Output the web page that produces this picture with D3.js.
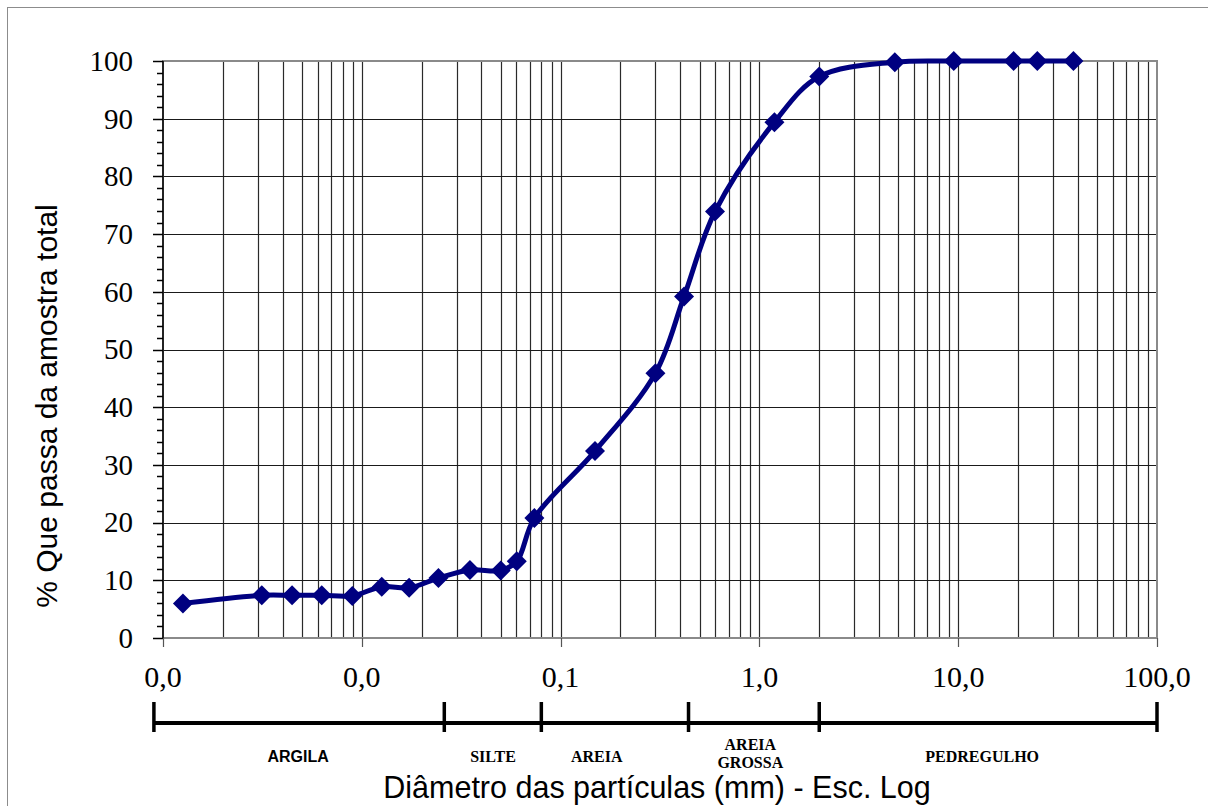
<!DOCTYPE html>
<html>
<head>
<meta charset="utf-8">
<script src="https://cdn.jsdelivr.net/npm/d3@7/dist/d3.min.js"></script>
<style>
  body { margin: 0; background: #fff; }
  svg { display: block; }
</style>
</head>
<body>
<div id="chart"></div>
<script>
// grain size curve (diameter in mm, % passing)
var diameters = [0.00126, 0.00314, 0.00446, 0.00629, 0.00896, 0.0126, 0.0173, 0.0243, 0.035, 0.05, 0.0602, 0.0738,
                 0.149, 0.3, 0.418, 0.598, 1.19, 2.0, 4.8, 9.5, 19, 25, 38];
var passing   = [6.0, 7.4, 7.4, 7.4, 7.3, 8.9, 8.7, 10.4, 11.8, 11.7, 13.3, 20.8,
                 32.4, 45.9, 59.2, 73.9, 89.4, 97.3, 99.8, 100, 100, 100, 100];

var xTicks = [0.001, 0.01, 0.1, 1, 10, 100];
var yTicks = [0, 10, 20, 30, 40, 50, 60, 70, 80, 90, 100];

// soil classes along the bottom bar
var classLimits = [0.0009, 0.026, 0.08, 0.44, 2.0, 100];
var classNames  = [["ARGILA"], ["SILTE"], ["AREIA"], ["AREIA", "GROSSA"], ["PEDREGULHO"]];
var classCenter = [0.00478, 0.0457, 0.152, 0.9, 13.2];

var W = 1208, H = 806,
    pLeft = 163, pRight = 1157, pTop = 61, pBottom = 638;

var x = d3.scaleLog().domain([0.001, 100]).range([pLeft, pRight]),
    y = d3.scaleLinear().domain([0, 100]).range([pBottom, pTop]);

var svg = d3.select("#chart").append("svg")
    .attr("width", W)
    .attr("height", H);

svg.append("rect")
  .attr("width", W).attr("height", H)
  .style("fill", "#fff");

/* outer frame */
svg.append("rect")
  .attr("x", 7.5).attr("y", 7.5)
  .attr("width", W + 20).attr("height", H + 20)
  .style("fill", "none")
  .style("stroke", "#8c8c8c")
  .style("stroke-width", 1);

/* vertical grid: every 1..9 of each decade */
var minor = [];
for (var k = -3; k <= 1; k++)
  for (var m = 1; m <= 9; m++)
    minor.push(m * Math.pow(10, k));

svg.selectAll(".vgrid")
  .data(minor.filter(function(d){ return d > 0.001; }))
  .enter().append("line")
  .attr("class", "vgrid")
  .attr("x1", function(d){ return Math.round(x(d)) + 0.5; })
  .attr("x2", function(d){ return Math.round(x(d)) + 0.5; })
  .attr("y1", pTop)
  .attr("y2", pBottom)
  .style("stroke", "#2a2a2a")
  .style("stroke-width", 1.2);

svg.selectAll(".hgrid")
  .data(yTicks.filter(function(d){ return d > 0 && d < 100; }))
  .enter().append("line")
  .attr("class", "hgrid")
  .attr("x1", pLeft)
  .attr("x2", pRight)
  .attr("y1", function(d){ return Math.round(y(d)) + 0.5; })
  .attr("y2", function(d){ return Math.round(y(d)) + 0.5; })
  .style("stroke", "#1a1a1a")
  .style("stroke-width", 1.2);

/* plot frame */
svg.append("rect")
  .attr("x", pLeft).attr("y", pTop)
  .attr("width", pRight - pLeft).attr("height", pBottom - pTop)
  .style("fill", "none")
  .style("stroke", "#8a8a8a")
  .style("stroke-width", 2);

/* y axis */
svg.append("line")
  .attr("x1", pLeft).attr("x2", pLeft)
  .attr("y1", pTop).attr("y2", pBottom)
  .style("stroke", "#000")
  .style("stroke-width", 1.5);

svg.selectAll(".ytick")
  .data(d3.range(0, 101, 2))
  .enter().append("line")
  .attr("class", "ytick")
  .attr("x1", function(d){ return d % 10 === 0 ? pLeft - 10 : pLeft - 6; })
  .attr("x2", pLeft)
  .attr("y1", function(d){ return Math.round(y(d)) + 0.5; })
  .attr("y2", function(d){ return Math.round(y(d)) + 0.5; })
  .style("stroke", "#000")
  .style("stroke-width", 1.5);

svg.selectAll(".ylabel")
  .data(yTicks)
  .enter().append("text")
  .attr("class", "ylabel")
  .attr("x", 133)
  .attr("y", y)
  .attr("dy", "0.34em")
  .attr("text-anchor", "end")
  .style("font", "29px 'Liberation Serif'")
  .text(function(d){ return d; });

/* x axis ticks */
svg.selectAll(".xtick")
  .data(xTicks)
  .enter().append("line")
  .attr("class", "xtick")
  .attr("x1", function(d){ return Math.round(x(d)) + 0.5; })
  .attr("x2", function(d){ return Math.round(x(d)) + 0.5; })
  .attr("y1", pBottom)
  .attr("y2", pBottom + 9)
  .style("stroke", "#555")
  .style("stroke-width", 1.2);

var fmt = d3.format(".1f");
svg.selectAll(".xlabel")
  .data(xTicks)
  .enter().append("text")
  .attr("class", "xlabel")
  .attr("x", x)
  .attr("y", 687)
  .attr("text-anchor", "middle")
  .style("font", "30px 'Liberation Serif'")
  .text(function(d){ return fmt(d).replace(".", ","); });

/* curve */
var pts = diameters.map(function(d, i){ return [x(d), y(passing[i])]; });

svg.append("path")
  .datum(pts)
  .attr("d", d3.line().curve(d3.curveCatmullRom.alpha(0.5)))
  .style("fill", "none")
  .style("stroke", "#000080")
  .style("stroke-width", 5);

svg.selectAll(".pt")
  .data(pts)
  .enter().append("path")
  .attr("class", "pt")
  .attr("transform", function(d){ return "translate(" + d[0] + "," + d[1] + ") rotate(45)"; })
  .attr("d", d3.symbol().type(d3.symbolSquare).size(200))
  .style("fill", "#000080");

/* classification bar */
var barY = 723;
svg.append("line")
  .attr("x1", x(classLimits[0]))
  .attr("x2", x(classLimits[classLimits.length - 1]))
  .attr("y1", barY).attr("y2", barY)
  .style("stroke", "#000")
  .style("stroke-width", 4);

svg.selectAll(".climit")
  .data(classLimits)
  .enter().append("line")
  .attr("class", "climit")
  .attr("x1", x).attr("x2", x)
  .attr("y1", barY - 21).attr("y2", barY + 9)
  .style("stroke", "#000")
  .style("stroke-width", 3.5);

var cl = svg.selectAll(".cname")
  .data(classNames)
  .enter().append("text")
  .attr("class", "cname")
  .attr("x", function(d, i){ return x(classCenter[i]); })
  .attr("y", function(d){ return d.length > 1 ? 750 : 762; })
  .attr("text-anchor", "middle")
  .style("font-weight", "bold")
  .style("font-size", "16px")
  .style("font-family", function(d, i){ return i === 0 ? "'Liberation Sans'" : "'Liberation Serif'"; });

cl.selectAll("tspan")
  .data(function(d){ return d; })
  .enter().append("tspan")
  .attr("x", function(){ return d3.select(this.parentNode).attr("x"); })
  .attr("dy", function(d, i){ return i === 0 ? 0 : 18; })
  .text(function(d){ return d; });

/* titles */
svg.append("text")
  .attr("x", 657)
  .attr("y", 798)
  .attr("text-anchor", "middle")
  .style("font", "30.5px 'Liberation Sans'")
  .text("Diâmetro das partículas (mm) - Esc. Log");

svg.append("text")
  .attr("transform", "translate(57,406) rotate(-90)")
  .attr("text-anchor", "middle")
  .style("font", "30px 'Liberation Sans'")
  .text("% Que passa da amostra total");
</script>
</body>
</html>
